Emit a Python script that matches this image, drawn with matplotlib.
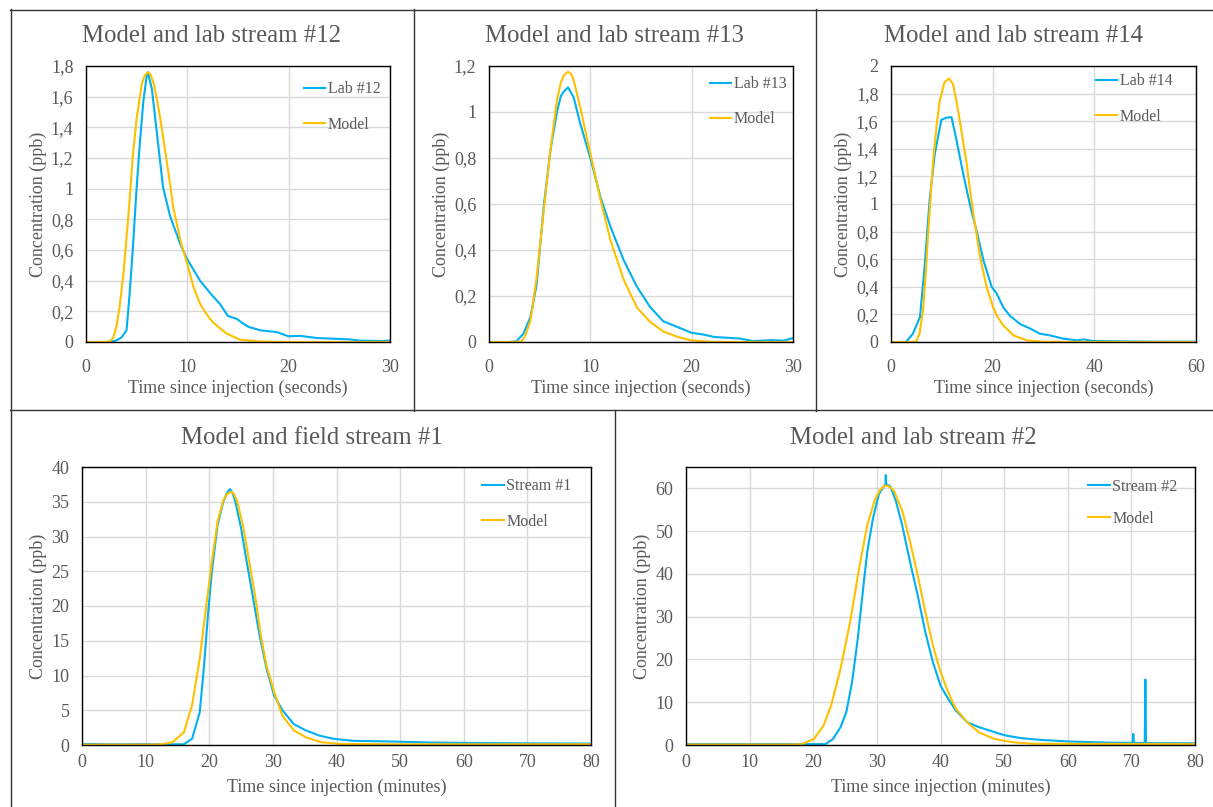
import matplotlib.pyplot as plt
from matplotlib.lines import Line2D
from matplotlib.ticker import FuncFormatter, MultipleLocator

# ---- data ----
# Lab stream #12 (seconds, ppb)
t12_lab = [0, 1, 2, 2.5, 3.0, 3.5, 4.0, 4.25, 4.5, 4.67, 5.0, 5.33, 5.66, 6.0, 6.1, 6.5, 7.0,
           7.6, 8.3, 9.3, 9.9, 11.25, 12.5, 13.2, 14.0, 14.9, 15.5, 16.0, 17.2, 18.8, 20.0,
           21.1, 22.8, 26.0, 27.0, 29.3, 30.0]
c12_lab = [0, 0, 0, 0.003, 0.01, 0.03, 0.076, 0.27, 0.49, 0.66, 1.01, 1.31, 1.57, 1.74, 1.76,
           1.65, 1.36, 1.01, 0.82, 0.64, 0.55, 0.40, 0.30, 0.25, 0.17, 0.15, 0.12, 0.10, 0.076,
           0.065, 0.037, 0.04, 0.026, 0.017, 0.009, 0.006, 0.01]
t12_mod = [0, 1, 2, 2.4, 2.7, 3.0, 3.3, 3.7, 4.0, 4.3, 4.6, 5.0, 5.5, 5.8, 6.15, 6.4, 6.7, 7.0,
           7.3, 7.6, 7.96, 8.3, 8.6, 9.0, 9.4, 9.9, 10.2, 10.6, 11.25, 11.8, 12.5, 13.2, 13.9,
           15.2, 17.2, 20, 25, 30]
c12_mod = [0, 0, 0, 0.005, 0.03, 0.1, 0.22, 0.45, 0.68, 0.92, 1.2, 1.46, 1.68, 1.74, 1.76, 1.74,
           1.68, 1.58, 1.47, 1.34, 1.18, 1.03, 0.88, 0.76, 0.64, 0.53, 0.46, 0.36, 0.25, 0.19,
           0.13, 0.09, 0.054, 0.015, 0.003, 0, 0, 0]

# Lab stream #13
t13_lab = [0, 1, 2, 2.7, 3.4, 4.1, 4.7, 5.4, 6.05, 6.7, 7.1, 7.4, 7.8, 8.35, 9.0, 10.0, 11.0,
           12.0, 13.3, 14.6, 15.9, 17.2, 18.6, 20.0, 21.2, 22.2, 24.8, 26.0, 27.8, 29.1, 30.0]
c13_lab = [0, 0, 0, 0.003, 0.036, 0.11, 0.25, 0.59, 0.83, 1.0, 1.07, 1.09, 1.107, 1.065, 0.95,
           0.80, 0.63, 0.50, 0.355, 0.24, 0.152, 0.09, 0.065, 0.04, 0.032, 0.022, 0.015, 0.004,
           0.008, 0.006, 0.017]
t13_mod = [0, 1, 2, 3.2, 3.6, 4.1, 4.7, 5.4, 6.05, 6.7, 7.1, 7.4, 7.8, 8.1, 8.35, 9.0, 10.0,
           11.0, 12.0, 13.3, 14.6, 15.9, 17.2, 18.6, 20.0, 22, 25, 30]
c13_mod = [0, 0, 0, 0.002, 0.03, 0.094, 0.28, 0.57, 0.83, 1.05, 1.13, 1.16, 1.175, 1.165, 1.14,
           1.02, 0.82, 0.62, 0.44, 0.27, 0.15, 0.087, 0.046, 0.022, 0.007, 0.001, 0, 0]

# Lab stream #14
t14_lab = [0, 1, 2, 3, 4.3, 5.7, 6.6, 7.6, 8.6, 9.9, 10.9, 11.9, 12.9, 14.2, 15.5, 16.8, 18.2,
           19.8, 20.8, 22.1, 23.4, 25.4, 27.4, 29.3, 31.3, 33.9, 36.6, 37.9, 39.8, 49.7, 55, 60]
c14_lab = [0, 0, 0, 0.002, 0.06, 0.18, 0.54, 1.03, 1.36, 1.61, 1.625, 1.63, 1.46, 1.22, 1.0,
           0.81, 0.59, 0.40, 0.35, 0.25, 0.19, 0.13, 0.097, 0.06, 0.048, 0.024, 0.012, 0.019,
           0.007, 0.003, 0.002, 0.002]
t14_mod = [0, 2, 4, 5, 5.6, 6.3, 6.8, 7.3, 7.8, 8.3, 9.0, 9.6, 10.5, 11.4, 12.2, 12.8, 13.5,
           14.2, 14.9, 15.5, 16.2, 17.5, 18.8, 20.1, 21.0, 22.1, 24.1, 26.7, 30, 40, 60]
c14_mod = [0, 0, 0, 0.005, 0.06, 0.23, 0.48, 0.78, 1.06, 1.32, 1.58, 1.75, 1.88, 1.91, 1.87,
           1.76, 1.61, 1.45, 1.29, 1.11, 0.93, 0.62, 0.40, 0.25, 0.18, 0.12, 0.048, 0.012, 0.002,
           0, 0]

# Field stream #1 (minutes, ppb)
t1_lab = [0, 5, 10, 14, 16, 17.3, 18.5, 19.1, 19.75, 20.4, 21.3, 22.2, 22.7, 23.1, 23.3, 23.7,
          24.1, 25.0, 25.9, 26.9, 27.8, 29.0, 30.2, 31.5, 33.3, 35.2, 37.3, 39.5, 42.6, 48.8,
          54.9, 67.3, 80]
c1_lab = [0.15, 0.1, 0.12, 0.1, 0.1, 0.9, 4.7, 10.5, 18.2, 24.9, 31.6, 35.0, 36.1, 36.7, 36.8,
          36.2, 35.0, 31.2, 26.3, 21.1, 16.3, 11.0, 7.1, 5.0, 3.0, 2.1, 1.35, 0.9, 0.6, 0.5,
          0.35, 0.25, 0.2]
t1_mod = [0, 5, 10, 12.3, 14.2, 16.0, 17.3, 18.5, 19.4, 20.4, 21.3, 22.2, 22.7, 23.1, 23.5,
          23.9, 24.4, 25.3, 26.2, 27.2, 28.1, 29.0, 30.2, 31.5, 33.3, 35.2, 37.6, 40.7, 50, 80]
c1_mod = [0.05, 0.05, 0.05, 0.08, 0.4, 1.8, 5.7, 12.4, 19.1, 26.3, 32.1, 35.2, 36.0, 36.3, 36.4,
          36.1, 35.0, 31.6, 26.8, 21.5, 15.8, 11.4, 7.6, 4.2, 2.1, 1.1, 0.4, 0.15, 0.1, 0.1]

# Lab stream #2 (minutes, ppb)
t2_lab = [0, 10, 20, 21.9, 23.1, 24.3, 25.2, 26.1, 27.0, 27.9, 28.5, 29.4, 30.3, 31.1, 31.35,
          31.4, 31.45, 32.1, 33.0, 33.96, 35.2, 36.4, 37.6, 38.8, 40.0, 41.2, 42.4, 44.2, 46.0,
          48.5, 50.3, 52.7, 55.7, 60.5, 66.6, 70.2, 70.3, 70.4, 72.1, 72.2, 72.3, 80]
c2_lab = [0.2, 0.2, 0.2, 0.2, 1.4, 4.2, 7.7, 14.7, 24.9, 37.4, 45.3, 53.1, 58.6, 60.5, 61.0,
          63.1, 61.0, 60.5, 57.0, 51.5, 42.9, 35.1, 26.5, 19.4, 13.9, 10.8, 8.1, 5.3, 4.2,
          3.0, 2.2, 1.6, 1.2, 0.8, 0.55, 0.5, 2.6, 0.5, 0.45, 15.3, 0.45, 0.4]
t2_mod = [0, 10, 17, 18.2, 20.1, 21.6, 22.8, 24.3, 25.8, 27.3, 28.5, 29.7, 30.5, 31.1, 31.4,
          32.0, 32.7, 34.0, 35.2, 36.4, 37.6, 38.8, 40.0, 41.2, 42.4, 44.2, 46.0, 48.5, 51.5,
          54.5, 80]
c2_mod = [0.1, 0.1, 0.1, 0.2, 1.4, 4.5, 9.2, 17.9, 28.8, 42.1, 51.5, 57.4, 59.6, 60.5, 60.7,
          60.4, 59.4, 54.7, 47.6, 39.8, 31.2, 23.3, 17.1, 12.4, 8.5, 5.3, 3.0, 1.4, 0.6, 0.3,
          0.2]

titles = ["Model and lab stream #12", "Model and lab stream #13", "Model and lab stream #14",
          "Model and field stream #1", "Model and lab stream #2"]
lab_names = ["Lab #12", "Lab #13", "Lab #14", "Stream #1", "Stream #2"]
xlabels = ["Time since injection (seconds)"] * 3 + ["Time since injection (minutes)"] * 2

# ---- layout (pixels) ----
W, H = 1213, 807
plt.rcParams['font.family'] = ['Liberation Serif', 'DejaVu Serif']
GRAY = "#595959"
BLUE = "#00B0F0"
ORANGE = "#FFC000"

fig = plt.figure(figsize=(W / 100, H / 100), dpi=100)


def px_axes(l, t, r, b):
    return fig.add_axes([l / W, 1 - b / H, (r - l) / W, (b - t) / H])


def comma_fmt(v, pos):
    return ("%g" % round(v, 2)).replace(".", ",")


boxes = [(86, 66, 390, 342), (489, 66, 793, 342), (891, 66, 1196, 342),
         (82, 467, 591, 745), (686, 467, 1195, 745)]
panel_centers = [(211, 36), (614, 36), (1014, 36), (312, 438), (913, 438)]
xlims = [30, 30, 60, 80, 80]
xsteps = [10, 10, 20, 10, 10]
ylims = [1.8, 1.2, 2.0, 40, 65]
ysteps = [0.2, 0.2, 0.2, 5, 10]
leg_x = [0.695, 0.705, 0.65, 0.774, 0.778]
leg_y = [0.967, 0.986, 0.996, 0.982, 0.98]
leg_sp = [1.2, 1.2, 1.2, 1.2, 1.0]
xpads = [12.3, 12.3, 12.3, 6.5, 6.5]
xlabpads = [2.5, 2.5, 2.5, 5.5, 5.5]

series = [(t12_lab, c12_lab, t12_mod, c12_mod), (t13_lab, c13_lab, t13_mod, c13_mod),
          (t14_lab, c14_lab, t14_mod, c14_mod), (t1_lab, c1_lab, t1_mod, c1_mod),
          (t2_lab, c2_lab, t2_mod, c2_mod)]

for i in range(5):
    ax = px_axes(*boxes[i])
    tl, cl, tm, cm = series[i]
    ax.plot(tl, cl, color=BLUE, lw=1.5, label=lab_names[i])
    ax.plot(tm, cm, color=ORANGE, lw=1.5, label="Model")
    ax.set_xlim(0, xlims[i])
    ax.set_ylim(0, ylims[i])
    ax.xaxis.set_major_locator(MultipleLocator(xsteps[i]))
    ax.yaxis.set_major_locator(MultipleLocator(ysteps[i]))
    ax.yaxis.set_major_formatter(FuncFormatter(comma_fmt))
    ax.grid(True, color="#D9D9D9", lw=1.0)
    ax.set_axisbelow(True)
    ax.tick_params(length=0, labelsize=13, labelcolor=GRAY)
    ax.tick_params(axis="y", pad=9)
    ax.tick_params(axis="x", pad=xpads[i])
    for s in ax.spines.values():
        s.set_color("black")
        s.set_linewidth(1.0)
    ax.set_xlabel(xlabels[i], fontsize=13, color=GRAY, labelpad=xlabpads[i])
    ax.set_ylabel("Concentration (ppb)", fontsize=13, color=GRAY, labelpad=3)
    ax.legend(loc="upper left", bbox_to_anchor=(leg_x[i], leg_y[i]), frameon=False,
              fontsize=11.5, labelcolor=GRAY, handlelength=1.35, handletextpad=0.15,
              labelspacing=leg_sp[i], borderaxespad=0)
    cx, cy = panel_centers[i]
    fig.text(cx / W, 1 - cy / H, titles[i], ha="center", va="center", fontsize=17.8, color=GRAY)


# panel borders
def hline(y, x0, x1):
    fig.add_artist(Line2D([x0 / W, x1 / W], [1 - y / H, 1 - y / H], color="#333333", lw=1.0))


def vline(x, y0, y1):
    fig.add_artist(Line2D([x / W, x / W], [1 - y0 / H, 1 - y1 / H], color="#333333", lw=1.0))


hline(9.5, 10, W)
hline(410.5, 10, W)
vline(10.5, 9, H)
vline(413.5, 9, 411)
vline(815.5, 9, 411)
vline(614.5, 410, H)

fig.savefig("out.png", dpi=100)
